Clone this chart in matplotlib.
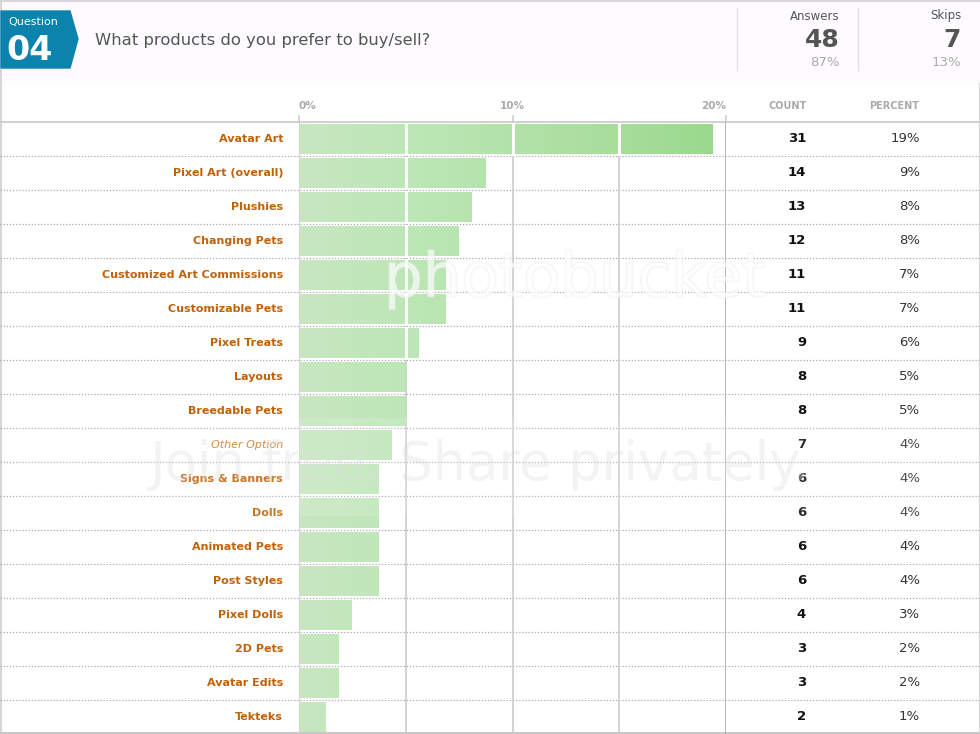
import numpy as np
import matplotlib
matplotlib.use("Agg")
import matplotlib.pyplot as plt
from matplotlib.patches import Rectangle, Polygon
from matplotlib.colors import LinearSegmentedColormap
import matplotlib.patheffects as pe

# ------------------------------------------------------------------
# Data
# ------------------------------------------------------------------
question_no = "04"
question = "What products do you prefer to buy/sell?"
answers, answers_pct = 48, "87%"
skips, skips_pct = 7, "13%"

labels = ["Avatar Art", "Pixel Art (overall)", "Plushies", "Changing Pets",
          "Customized Art Commissions", "Customizable Pets", "Pixel Treats",
          "Layouts", "Breedable Pets", "Other Option", "Signs & Banners",
          "Dolls", "Animated Pets", "Post Styles", "Pixel Dolls", "2D Pets",
          "Avatar Edits", "Tekteks"]
counts = [31, 14, 13, 12, 11, 11, 9, 8, 8, 7, 6, 6, 6, 6, 4, 3, 3, 2]
percent_labels = ["19%", "9%", "8%", "8%", "7%", "7%", "6%", "5%", "5%",
                  "4%", "4%", "4%", "4%", "4%", "3%", "2%", "2%", "1%"]
x_ticks = [0, 10, 20]

# bar length = share of all picks
total = sum(counts)
shares = [100.0 * c / total for c in counts]

# ------------------------------------------------------------------
# Figure / pixel-space overlay for the table chrome
# ------------------------------------------------------------------
W, H = 980, 734
fig = plt.figure(figsize=(W / 100, H / 100), dpi=100)
bg = fig.add_axes([0, 0, 1, 1])
bg.set_xlim(0, W)
bg.set_ylim(H, 0)
bg.axis("off")

header_h = 84
row_top = 122
row_h = 34
n = len(labels)

# header band
bg.add_patch(Rectangle((0, 0), W, header_h, color="#fdfbfe", zorder=0))
bg.plot([0, W], [0.5, 0.5], color="#d6d6d6", lw=1.5)
bg.plot([0.5, 0.5], [0, H], color="#d6d6d6", lw=1.5)
bg.plot([W - 0.5, W - 0.5], [header_h, H], color="#d6d6d6", lw=1.5)

# question badge
bg.add_patch(Polygon([(1, 11), (70, 11), (78, 39), (70, 68), (1, 68)],
                     closed=True, color="#0b83ad", zorder=2))
bg.text(8, 22, "Question", color="white", fontsize=8, va="center", zorder=3)
bg.text(6, 50, question_no, color="white", fontsize=24, fontweight="bold",
        va="center", zorder=3)
bg.text(95, 41, question, color="#555555", fontsize=11.8, va="center")

# answers / skips
for xs in (737, 858):
    bg.plot([xs, xs], [8, 70], color="#e4e0e0", lw=1)
for xr, name, val, pct in [(840, "Answers", answers, answers_pct),
                           (961, "Skips", skips, skips_pct)]:
    bg.text(xr, 16, name, ha="right", va="center", fontsize=8.5, color="#555555")
    bg.text(xr, 40, str(val), ha="right", va="center", fontsize=18,
            fontweight="bold", color="#555555")
    bg.text(xr, 63, pct, ha="right", va="center", fontsize=9.5, color="#aaaaaa")

# column headers
bg.text(807, 106, "COUNT", ha="right", va="center", fontsize=7, color="#aaaaaa",
        fontweight="bold")
bg.text(919, 106, "PERCENT", ha="right", va="center", fontsize=7, color="#aaaaaa",
        fontweight="bold")

# header rule and row separators
bg.plot([0, W], [row_top, row_top], color="#c8c8c8", lw=1.2)
for i in range(1, n):
    y = row_top + i * row_h
    bg.plot([0, W], [y, y], color="#aaaaaa", lw=0.9, ls=(0, (1, 1.5)))
bg.plot([0, W], [H - 1, H - 1], color="#c8c8c8", lw=1.5)

# row text
for i, (lab, c, p) in enumerate(zip(labels, counts, percent_labels)):
    yc = row_top + i * row_h + row_h / 2
    if lab == "Other Option":
        bg.text(283, yc, lab, ha="right", va="center", fontsize=8,
                color="#cf7d2a", style="italic")
    else:
        bg.text(283, yc, lab, ha="right", va="center", fontsize=8,
                color="#c0620a", fontweight="bold")
    bg.text(806, yc, str(c), ha="right", va="center", fontsize=9.5,
            color="#111111", fontweight="bold")
    bg.text(920, yc, p, ha="right", va="center", fontsize=9.5, color="#333333")

# ------------------------------------------------------------------
# Bar axes (percent scale)
# ------------------------------------------------------------------
x0, x1 = 299, 726
ax = fig.add_axes([x0 / W, 0, (x1 - x0) / W, (H - row_top) / H])
ax.set_xlim(0, 20)
ax.set_ylim(n, 0)
ax.patch.set_visible(False)
for s in ax.spines.values():
    s.set_visible(False)
ax.set_xticks([])
ax.set_yticks([])

grid_x = [0, 5, 10, 15, 20]
for gx in grid_x:
    ax.axvline(gx, color="#aaaaaa" if gx == 20 else "#cccccc", lw=1.2, zorder=0)

cmap = LinearSegmentedColormap.from_list(
    "bars", ["#c8e6c1", "#bde7b7", "#b2e2a9", "#a8dd9c", "#98d98a"])
grad = np.linspace(0, 1, 256).reshape(1, -1)

for i, v in enumerate(shares):
    rect = Rectangle((0.07, i + 0.05), v - 0.07, 0.9, facecolor="none",
                     edgecolor="none")
    ax.add_patch(rect)
    im = ax.imshow(grad, cmap=cmap, aspect="auto", extent=[0, 20, i + 0.95, i + 0.05],
                   zorder=1, interpolation="bicubic")
    im.set_clip_path(rect)
    # white gaps where the grid passes through a bar
    for gx in grid_x[1:-1]:
        if gx < v:
            ax.plot([gx, gx], [i + 0.05, i + 0.95], color="white", lw=2.2, zorder=2)

ax.set_ylim(n, 0)
ax.set_xlim(0, 20)

# tick labels above the chart
for t in x_ticks:
    ha = "left" if t == 0 else ("right" if t == 20 else "center")
    xp = x0 + (x1 - x0) * t / 20
    bg.text(xp - (1 if t == 0 else 0), 106, f"{t}%", ha=ha, va="center",
            fontsize=7.5, color="#aaaaaa", fontweight="bold")
    bg.plot([xp, xp], [116, row_top], color="#cccccc", lw=1.2)

# faint photobucket watermark
wm = fig.add_axes([0, 0, 1, 1], zorder=5)
wm.set_xlim(0, W)
wm.set_ylim(H, 0)
wm.axis("off")
wm.add_patch(Rectangle((20, 418), 915, 98, color="white", alpha=0.12, lw=0))
wm.text(575, 280, "photobucket", ha="center", va="center", fontsize=44,
        color="white", alpha=0.45,
        path_effects=[pe.withStroke(linewidth=1.5, foreground="#ececec")])
wm.text(480, 465, "Join free. Share privately.", ha="center", va="center",
        fontsize=38, color="#dddddd", alpha=0.35)

fig.savefig("out.png", dpi=100)
